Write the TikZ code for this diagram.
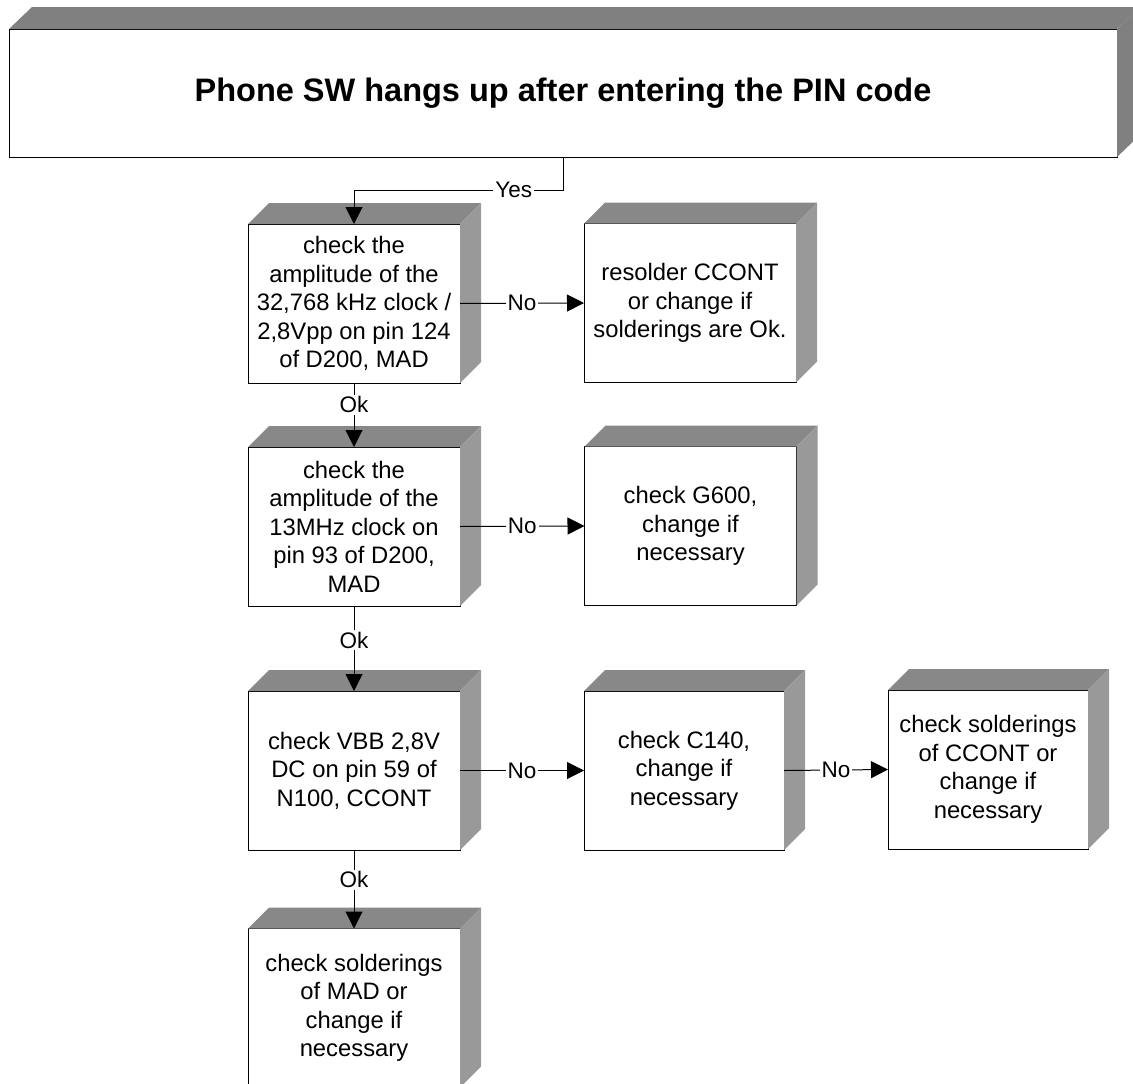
\documentclass[tikz,border=0pt]{standalone}
\usepackage{fontspec}
\setmainfont{Liberation Sans}
\usetikzlibrary{arrows.meta}

\definecolor{topface}{RGB}{136,136,136}
\definecolor{sideface}{RGB}{153,153,153}
\definecolor{headface}{RGB}{128,128,128}

\begin{document}
\begin{tikzpicture}[x=1pt,y=-1pt,
  stepbox/.style={draw=black,line width=1pt,fill=white,inner sep=0pt,outer sep=0pt,
    minimum width=212pt,minimum height=159pt,align=center,
    font=\fontsize{23.8}{28.5}\selectfont},
  narrowbox/.style={stepbox,minimum width=200pt},
  headbox/.style={draw=black,line width=1pt,fill=white,inner sep=0pt,outer sep=0pt,
    minimum width=1108pt,minimum height=128pt,
    font=\fontsize{32.5}{38}\selectfont\bfseries},
  conn/.style={line width=1pt,-{Triangle[length=17pt,width=17pt]}},
  lbl/.style={fill=white,inner sep=2pt,font=\fontsize{22.5}{26}\selectfont}
]
\useasboundingbox (0,0) rectangle (1133,1084);

% header and step boxes
\node[headbox] (hdr) at (563,93) {Phone SW hangs up after entering the PIN code};
\node[stepbox] (b1) at (354,303.5) {check the\\amplitude of the\\32,768 kHz clock /\\2,8Vpp on pin 124\\of D200, MAD};
\node[stepbox] (r1) at (690,303) {resolder CCONT\\or change if\\solderings are Ok.};
\node[stepbox] (b2) at (354,526.5) {check the\\amplitude of the\\13MHz clock on\\pin 93 of D200,\\MAD};
\node[stepbox] (r2) at (690.5,526) {check G600,\\change if\\necessary};
\node[stepbox] (b3) at (354,770.5) {check VBB 2,8V\\DC on pin 59 of\\N100, CCONT};
\node[narrowbox] (r3) at (684,770.5) {check C140,\\change if\\necessary};
\node[narrowbox] (s3) at (988,769.5) {check solderings\\of CCONT or\\change if\\necessary};
\node[stepbox] (b4) at (354,1008) {check solderings\\of MAD or\\change if\\necessary};

% shaded depth faces
\fill[headface] (hdr.north west) -- ++(23,-22) -- ([shift={(23,-22)}]hdr.north east) -- (hdr.north east) -- cycle;
\fill[headface] (hdr.north east) -- ++(23,-22) -- ([shift={(23,-22)}]hdr.south east) -- (hdr.south east) -- cycle;
\foreach \n in {b1,r1,b2,r2,b3,r3,s3,b4}{
  \fill[topface] (\n.north west) -- ++(21,-21) -- ([shift={(21,-21)}]\n.north east) -- (\n.north east) -- cycle;
  \fill[sideface] (\n.north east) -- ++(21,-21) -- ([shift={(21,-21)}]\n.south east) -- (\n.south east) -- cycle;
}

% connectors
\draw[conn] (hdr.south) -- ++(0,33) -| node[lbl,pos=0.118] {Yes} (b1.north);
\draw[conn] (b1.east) -- node[lbl] {No} (r1.west);
\draw[conn] (b1.south) -- node[lbl,pos=0.34] {Ok} (b2.north);
\draw[conn] (b2.east) -- node[lbl] {No} (r2.west);
\draw[conn] (b2.south) -- node[lbl,pos=0.4] {Ok} (b3.north);
\draw[conn] (b3.east) -- node[lbl] {No} (r3.west);
\draw[conn] (r3.east) -- node[lbl] {No} (s3.west);
\draw[conn] (b3.south) -- node[lbl,pos=0.38] {Ok} (b4.north);
\end{tikzpicture}
\end{document}
